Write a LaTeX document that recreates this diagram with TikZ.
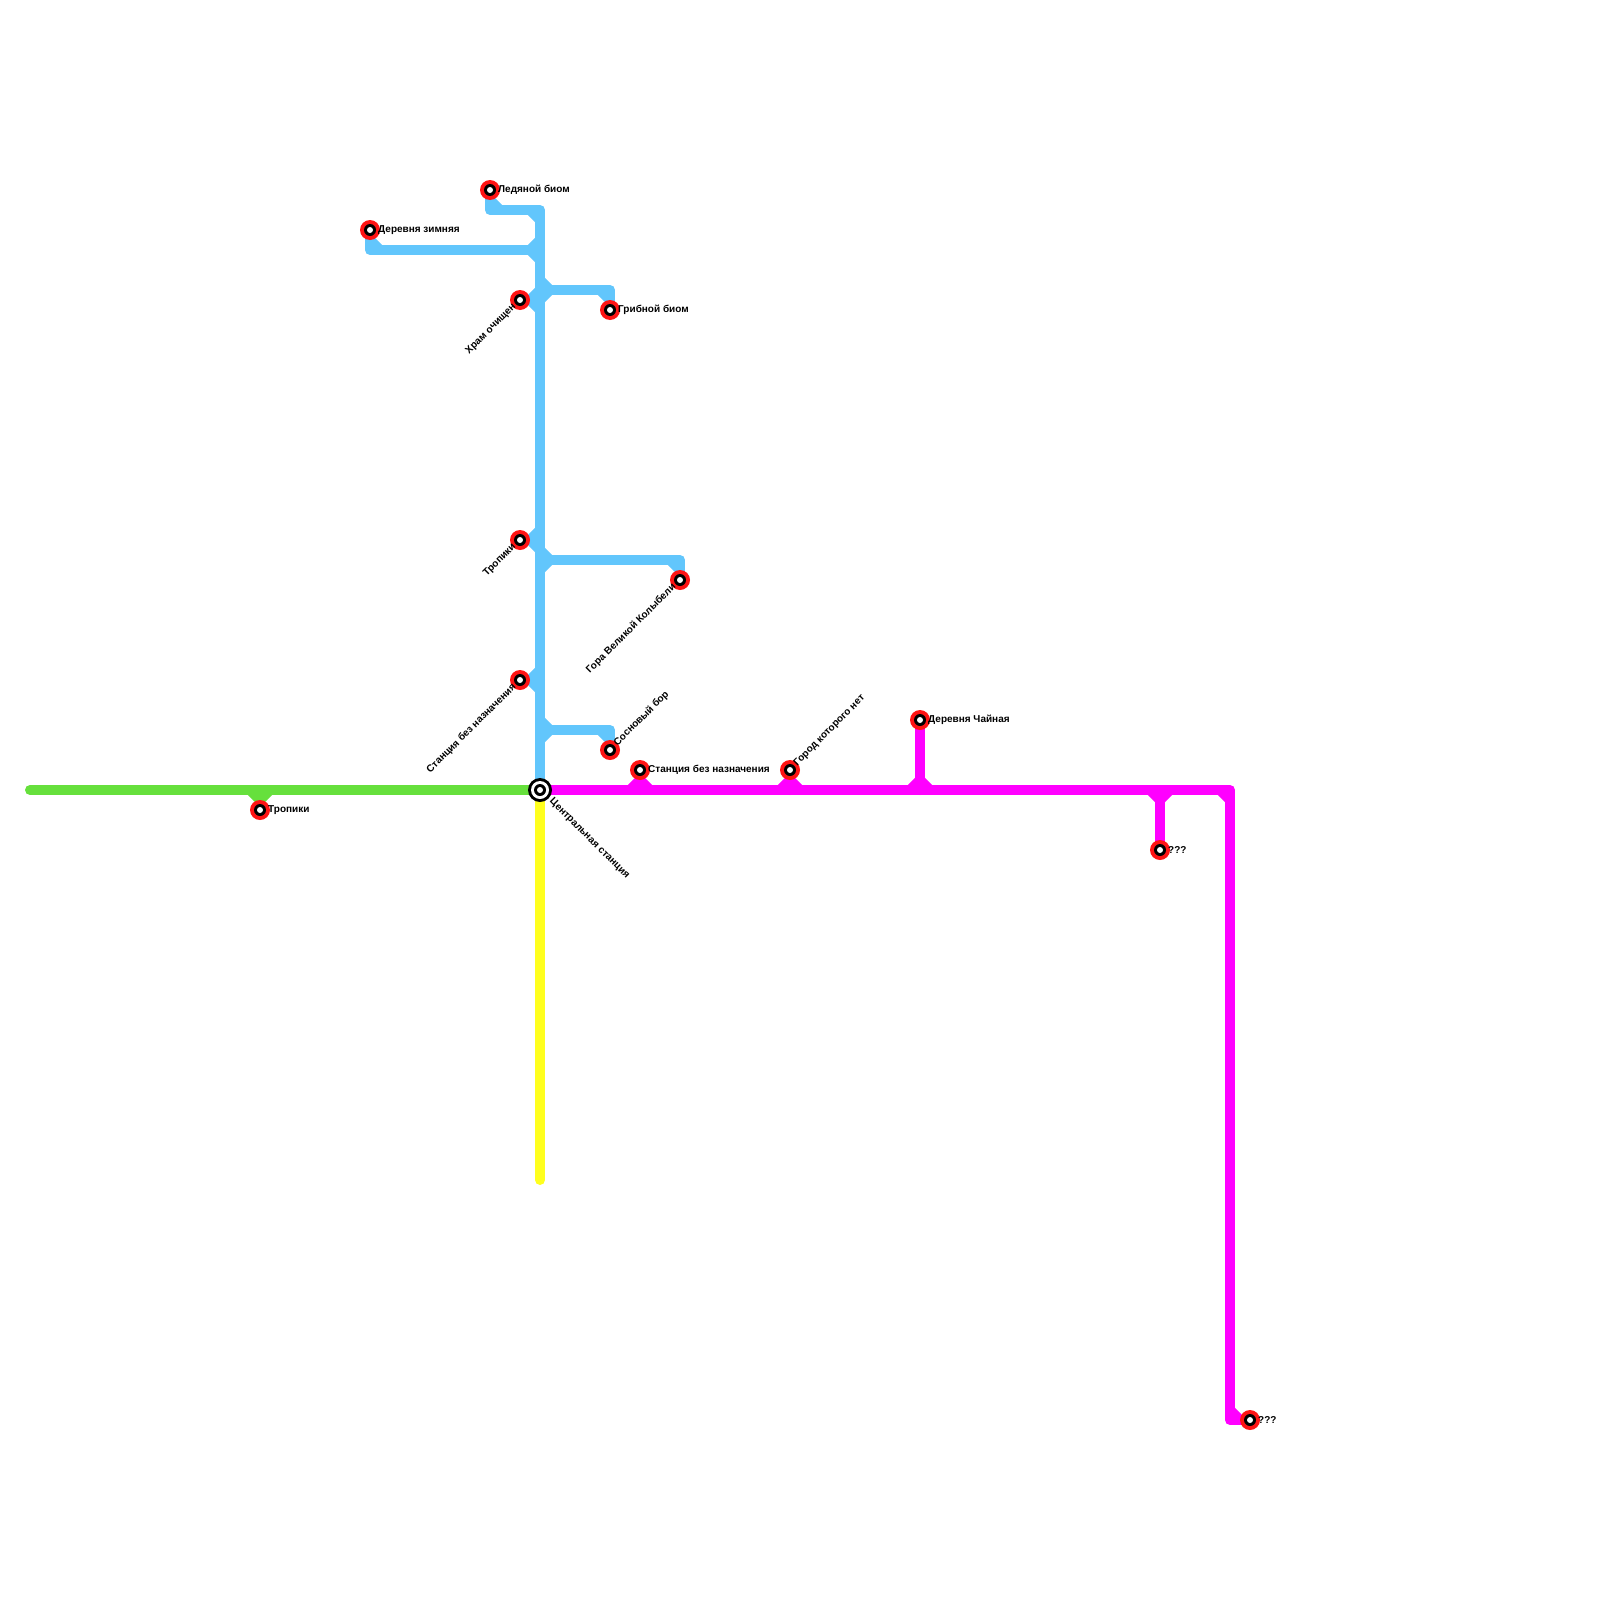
\documentclass[tikz,border=0pt]{standalone}
\usepackage{fontspec}
\setmainfont{Liberation Sans}
\definecolor{lblue}{HTML}{62C6FC}
\definecolor{lmag}{HTML}{FF00FF}
\definecolor{lgreen}{HTML}{66E03C}
\definecolor{lyel}{HTML}{FFFF1E}
\definecolor{lred}{HTML}{FF1414}
\tikzset{
  metro/.style={line width=10pt,line cap=round,line join=round},
  bl/.style={metro,lblue}, mg/.style={metro,lmag}, gr/.style={metro,lgreen}, ye/.style={metro,lyel},
  chamfer/.style={line width=10pt,line cap=butt},
  lab/.style={font=\bfseries\fontsize{10}{10}\selectfont,inner sep=0pt,text=black},
  labr/.style={lab,anchor=west},
  labup/.style={lab,anchor=west,rotate=45},
  labdn/.style={lab,anchor=east,rotate=45},
  labcen/.style={lab,anchor=west,rotate=-45},
}
% diagonal fillet between two offsets of a named point
\newcommand{\chm}[6]{\draw[chamfer,#1] ([shift={(#3,#4)}]#2) -- ([shift={(#5,#6)}]#2);}
\begin{document}
\begin{tikzpicture}[x=1pt,y=-1pt]
\useasboundingbox (0,0) rectangle (1600,1600);
% stations
\coordinate (led) at (490,190);
\coordinate (zim) at (370,230);
\coordinate (hram) at (520,300);
\coordinate (grib) at (610,310);
\coordinate (trb) at (520,540);
\coordinate (gora) at (680,580);
\coordinate (sbb) at (520,680);
\coordinate (sos) at (610,750);
\coordinate (cen) at (540,790);
\coordinate (sbm) at (640,770);
\coordinate (gor) at (790,770);
\coordinate (cha) at (920,720);
\coordinate (q1) at (1160,850);
\coordinate (q2) at (1250,1420);
\coordinate (trg) at (260,810);
% line ends and bends
\coordinate (gstart) at (30,790);
\coordinate (yend) at (540,1180);
\coordinate (ledc) at (490,210);
\coordinate (top) at (540,210);
\coordinate (zimc) at (370,250);
\coordinate (zimj) at (540,250);
\coordinate (hramj) at (540,300);
\coordinate (gribj) at (540,290);
\coordinate (gribc) at (610,290);
\coordinate (trbj) at (540,540);
\coordinate (goraj) at (540,560);
\coordinate (gorac) at (680,560);
\coordinate (sbbj) at (540,680);
\coordinate (sosj) at (540,730);
\coordinate (sosc) at (610,730);
\coordinate (sbmj) at (640,790);
\coordinate (gorj) at (790,790);
\coordinate (chaj) at (920,790);
\coordinate (q1j) at (1160,790);
\coordinate (mc1) at (1230,790);
\coordinate (mc2) at (1230,1420);
\coordinate (trgj) at (260,790);
% yellow, green
\draw[ye] (cen) -- (yend);
\draw[gr] (gstart) -- (cen);
\draw[gr] (trg) -- (trgj);
\chm{lgreen}{trgj}{-10}{0}{0}{10}
\chm{lgreen}{trgj}{10}{0}{0}{10}
% blue
\draw[bl] (led) -- (ledc) -- (top) -- (cen);
\chm{lblue}{ledc}{0}{-10}{10}{0}
\chm{lblue}{top}{-10}{0}{0}{10}
\draw[bl] (zim) -- (zimc) -- (zimj);
\chm{lblue}{zimc}{0}{-10}{10}{0}
\chm{lblue}{zimj}{-10}{0}{0}{-10}
\chm{lblue}{zimj}{-10}{0}{0}{10}
\draw[bl] (hram) -- (hramj);
\chm{lblue}{hramj}{-10}{0}{0}{-10}
\chm{lblue}{hramj}{-10}{0}{0}{10}
\draw[bl] (gribj) -- (gribc) -- (grib);
\chm{lblue}{gribj}{0}{-10}{10}{0}
\chm{lblue}{gribj}{0}{10}{10}{0}
\chm{lblue}{gribc}{-10}{0}{0}{10}
\draw[bl] (trb) -- (trbj);
\chm{lblue}{trbj}{-10}{0}{0}{-10}
\chm{lblue}{trbj}{-10}{0}{0}{10}
\draw[bl] (goraj) -- (gorac) -- (gora);
\chm{lblue}{goraj}{0}{-10}{10}{0}
\chm{lblue}{goraj}{0}{10}{10}{0}
\chm{lblue}{gorac}{-10}{0}{0}{10}
\draw[bl] (sbb) -- (sbbj);
\chm{lblue}{sbbj}{-10}{0}{0}{-10}
\chm{lblue}{sbbj}{-10}{0}{0}{10}
\draw[bl] (sosj) -- (sosc) -- (sos);
\chm{lblue}{sosj}{0}{-10}{10}{0}
\chm{lblue}{sosj}{0}{10}{10}{0}
\chm{lblue}{sosc}{-10}{0}{0}{10}
% magenta
\draw[mg] (cen) -- (mc1) -- (mc2) -- (q2);
\chm{lmag}{mc1}{-10}{0}{0}{10}
\chm{lmag}{mc2}{0}{-10}{10}{0}
\draw[mg] (sbm) -- (sbmj);
\chm{lmag}{sbmj}{-10}{0}{0}{-10}
\chm{lmag}{sbmj}{10}{0}{0}{-10}
\draw[mg] (gor) -- (gorj);
\chm{lmag}{gorj}{-10}{0}{0}{-10}
\chm{lmag}{gorj}{10}{0}{0}{-10}
\draw[mg] (cha) -- (chaj);
\chm{lmag}{chaj}{-10}{0}{0}{-10}
\chm{lmag}{chaj}{10}{0}{0}{-10}
\draw[mg] (q1) -- (q1j);
\chm{lmag}{q1j}{-10}{0}{0}{10}
\chm{lmag}{q1j}{10}{0}{0}{10}
% station markers
\foreach \s in {led,zim,hram,grib,trb,gora,sbb,sos,sbm,gor,cha,q1,q2,trg}{
  \fill[lred] (\s) circle (10pt);
  \fill[black] (\s) circle (6pt);
  \fill[white] (\s) circle (3pt);
}
\fill[black] (cen) circle (12pt);
\fill[white] (cen) circle (9pt);
\fill[black] (cen) circle (6pt);
\fill[white] (cen) circle (3pt);
% labels
\node[labr] (tled) at ([xshift=8pt]led) {Ледяной биом};
\node[labr] (tzim) at ([xshift=8pt]zim) {Деревня зимняя};
\node[labr] (tgrib) at ([xshift=8pt]grib) {Грибной биом};
\node[labr] (tsbm) at ([xshift=8pt]sbm) {Станция без назначения};
\node[labr] (tcha) at ([xshift=8pt]cha) {Деревня Чайная};
\node[labr] (tq1) at ([xshift=8pt]q1) {???};
\node[labr] (tq2) at ([xshift=8pt]q2) {???};
\node[labr] (ttrg) at ([xshift=8pt]trg) {Тропики};
\node[labdn] (thram) at ([shift={(-5.5,5.5)}]hram) {Храм очищен};
\node[labdn] (ttrb) at ([shift={(-5.5,5.5)}]trb) {Тропики};
\node[labdn] (tgora) at ([shift={(-5.5,5.5)}]gora) {Гора Великой Колыбели};
\node[labdn] (tsbb) at ([shift={(-5.5,5.5)}]sbb) {Станция без назначения};
\node[labup] (tsos) at ([shift={(5.5,-5.5)}]sos) {Сосновый бор};
\node[labup] (tgor) at ([shift={(5.5,-5.5)}]gor) {Город которого нет};
\node[labcen] (tcen) at ([shift={(11,10)}]cen) {Центральная станция};
\end{tikzpicture}
\end{document}
